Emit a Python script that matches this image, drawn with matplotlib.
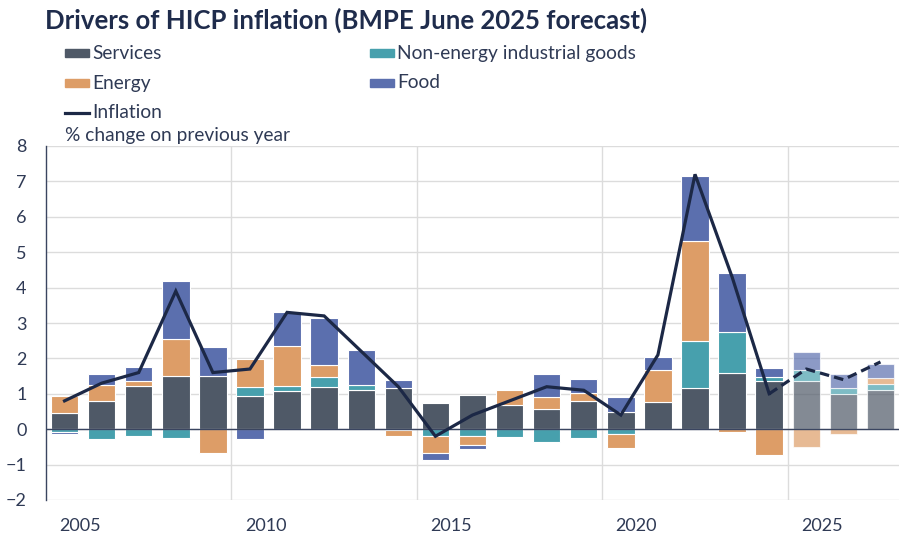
import numpy as np
import matplotlib
matplotlib.use("Agg")
import matplotlib.pyplot as plt
from matplotlib.patches import Rectangle
from matplotlib.lines import Line2D

plt.rcParams['font.family'] = ['Lato', 'DejaVu Sans']

years = list(range(2005, 2028))
services = [0.47, 0.81, 1.22, 1.50, 1.50, 0.94, 1.08, 1.20, 1.11, 1.16, 0.75, 0.98,
            0.68, 0.58, 0.80, 0.49, 0.78, 1.17, 1.60, 1.35, 1.36, 0.99, 1.10]
neig = [-0.09, -0.28, -0.19, -0.26, 0.00, 0.25, 0.15, 0.27, 0.14, -0.03, -0.19, -0.19,
        -0.23, -0.36, -0.25, -0.14, 0.00, 1.32, 1.15, 0.13, 0.31, 0.16, 0.17]
energy = [0.47, 0.43, 0.15, 1.04, -0.68, 0.80, 1.12, 0.34, 0.00, -0.15, -0.47, -0.26,
          0.43, 0.33, 0.23, -0.38, 0.89, 2.83, -0.07, -0.73, -0.49, -0.14, 0.17]
food = [-0.05, 0.32, 0.40, 1.64, 0.82, -0.28, 0.96, 1.34, 1.00, 0.23, -0.22, -0.12,
        0.00, 0.64, 0.38, 0.42, 0.38, 1.83, 1.66, 0.24, 0.51, 0.42, 0.41]
inflation = [0.8, 1.3, 1.6, 3.9, 1.6, 1.7, 3.3, 3.2, 2.2, 1.2, -0.2, 0.4,
             0.8, 1.2, 1.1, 0.4, 2.1, 7.2, 4.3, 1.0, 1.7, 1.4, 1.9]
first_forecast = 2025

names = ["Services", "Non-energy industrial goods", "Energy", "Food"]
colors = ["#4f5967", "#47a0ad", "#dd9d67", "#5b6fae"]
line_col = "#1c2846"
text_col = "#2f3a55"

fig = plt.figure(figsize=(8.99, 5.37), dpi=100)
ax = fig.add_axes([46 / 899, 1 - 500 / 537, 853 / 899, 354 / 537])

x = np.array(years)
alphas = [0.7 if y >= first_forecast else 1.0 for y in years]
pos_base = np.zeros(len(years))
neg_base = np.zeros(len(years))
for vals, c in zip([services, neig, energy, food], colors):
    vals = np.array(vals)
    base = np.where(vals >= 0, pos_base, neg_base)
    for i in range(len(years)):
        if vals[i] == 0:
            continue
        ax.bar(x[i], vals[i], bottom=base[i], width=0.74, color=c, alpha=alphas[i],
               edgecolor="white", linewidth=0.8, zorder=3)
    pos_base += np.where(vals > 0, vals, 0)
    neg_base += np.where(vals < 0, vals, 0)

infl = np.array(inflation)
k = years.index(first_forecast - 1)
ax.plot(x[:k + 1], infl[:k + 1], color=line_col, lw=2.3, zorder=5, solid_joinstyle="miter")
ax.plot(x[k:], infl[k:], color=line_col, lw=2.3, ls=(0, (3, 1.6)), zorder=5)

ax.axhline(0, color="#3a4560", lw=1.0, zorder=4)
ax.set_xlim(2004.5, 2027.5)
ax.set_ylim(-2, 8)
ax.set_yticks(range(-2, 9))
ax.grid(axis="y", color="#dcdcdc", lw=1.0, zorder=0)
for gx in [2009.5, 2014.5, 2019.5, 2024.5]:
    ax.axvline(gx, color="#dcdcdc", lw=1.0, zorder=0)

ax.set_xticks([2005.42, 2010.42, 2015.42, 2020.42, 2025.42])
ax.set_xticklabels(["2005", "2010", "2015", "2020", "2025"])
ax.tick_params(axis="both", length=0, labelsize=13, colors=text_col)
ax.tick_params(axis="y", pad=14)
ax.tick_params(axis="x", pad=13)
for s in ["top", "right", "bottom"]:
    ax.spines[s].set_visible(False)
ax.spines["left"].set_color("#3a4560")
ax.spines["left"].set_linewidth(1.0)

fig.text(45 / 899, 1 - 20 / 537, "Drivers of HICP inflation (BMPE June 2025 forecast)",
         fontsize=18.5, fontweight="bold", color="#1f2c4c", va="center", ha="left")

def legend_patch(px, py, label, c):
    fig.patches.append(Rectangle((px / 899, 1 - (py + 4) / 537), 24 / 899, 8 / 537,
                                 transform=fig.transFigure, color=c))
    fig.text((px + 27) / 899, 1 - py / 537, label, fontsize=13.8, color=text_col,
             va="center", ha="left")

legend_patch(65, 53, names[0], colors[0])
legend_patch(370, 53, names[1], colors[1])
legend_patch(65, 83, names[2], colors[2])
legend_patch(370, 83, names[3], colors[3])
fig.lines.append(Line2D([65 / 899, 89 / 899], [1 - 113 / 537, 1 - 113 / 537],
                        transform=fig.transFigure, color=line_col, lw=2.3))
fig.text(92 / 899, 1 - 113 / 537, "Inflation", fontsize=13.8, color=text_col,
         va="center", ha="left")
fig.text(65 / 899, 1 - 136 / 537, "% change on previous year", fontsize=13.8,
         color=text_col, va="center", ha="left")

fig.savefig("out.png", dpi=100)
